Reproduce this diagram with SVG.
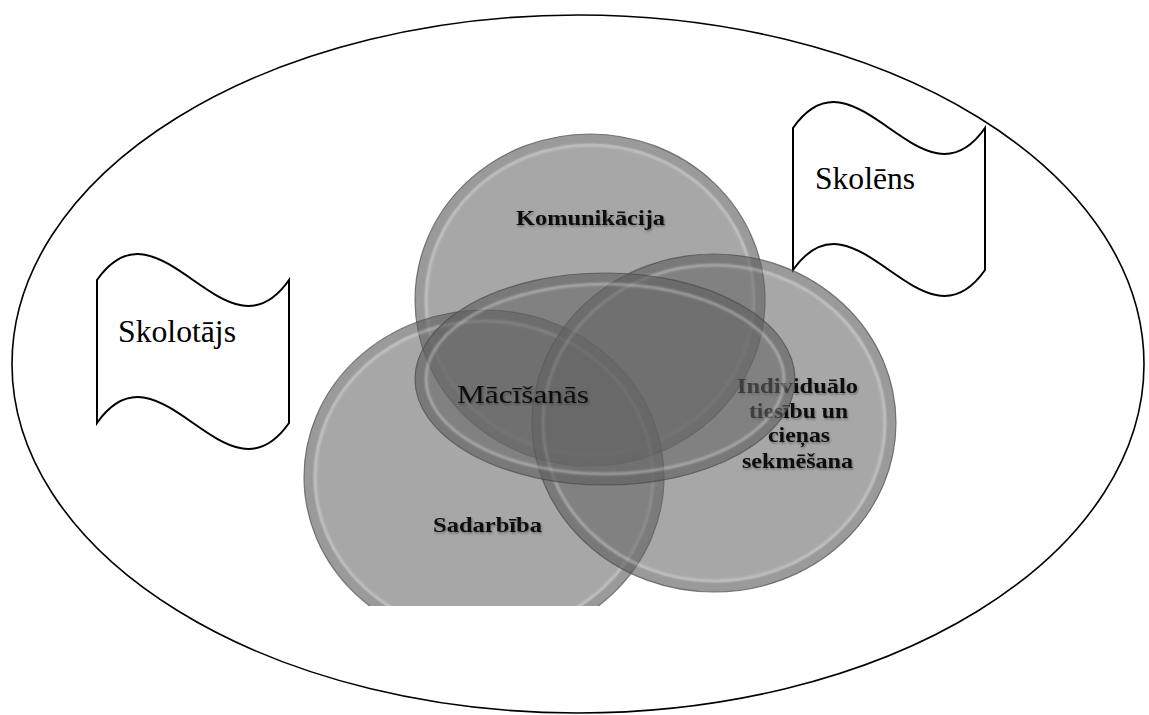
<svg xmlns="http://www.w3.org/2000/svg" width="1149" height="715" viewBox="0 0 1149 715">
  <defs>
    <style>
      .frame { fill: none; stroke: #000; stroke-width: 1.6; }
      .flag { fill: #fff; stroke: #000; stroke-width: 2; }
      .flagtext { font-family: "Liberation Serif", "Times New Roman", serif; font-size: 32px; fill: #000; }
      .disc { fill: #646464; fill-opacity: 0.57; stroke: #4a4a4a; stroke-opacity: 0.7; stroke-width: 1.2; }
      .rim { fill: none; stroke: #ffffff; stroke-opacity: 0.35; stroke-width: 2.5; filter: url(#soft); }
      .band { fill: none; stroke: #505050; stroke-opacity: 0.15; stroke-width: 9; }
      .lbl { font-family: "Liberation Serif", "Times New Roman", serif; font-weight: bold; font-size: 21px; fill: #111; filter: url(#shadow); }
      .big { font-size: 26px; font-weight: normal; }
    </style>
    <filter id="soft" x="-5%" y="-5%" width="110%" height="110%">
      <feGaussianBlur stdDeviation="1"/>
    </filter>
    <filter id="shadow" x="-10%" y="-30%" width="120%" height="160%">
      <feDropShadow dx="1" dy="1.5" stdDeviation="1" flood-color="#000" flood-opacity="0.35"/>
    </filter>
    <clipPath id="cut">
      <rect x="0" y="0" width="1149" height="606"/>
    </clipPath>
  </defs>

  <g id="context">
    <ellipse class="frame" cx="578" cy="364" rx="566" ry="349"/>
  </g>

  <g id="skolotajs">
    <path class="flag" d="M97,280 C160,190 226,370 289,280 L289,423 C226,513 160,333 97,423 Z"/>
    <text class="flagtext" x="118" y="342" textLength="118" lengthAdjust="spacingAndGlyphs">Skolotājs</text>
  </g>

  <g id="skolens">
    <path class="flag" d="M793,128 C856,38 922,218 985,128 L985,270 C922,360 856,180 793,270 Z"/>
    <text class="flagtext" x="815" y="189" textLength="100" lengthAdjust="spacingAndGlyphs">Skolēns</text>
  </g>

  <g id="venn" clip-path="url(#cut)">
    <g id="komunikacija">
      <ellipse class="disc" cx="590" cy="300" rx="175" ry="166"/>
      <ellipse class="band" cx="590" cy="300" rx="170" ry="161"/>
      <ellipse class="rim" cx="590" cy="300" rx="164" ry="155"/>
      <text class="lbl" x="516" y="225" textLength="149" lengthAdjust="spacingAndGlyphs">Komunikācija</text>
    </g>
    <g id="sadarbiba">
      <ellipse class="disc" cx="484" cy="477" rx="180" ry="167"/>
      <ellipse class="band" cx="484" cy="477" rx="175" ry="162"/>
      <ellipse class="rim" cx="484" cy="477" rx="169" ry="156"/>
      <text class="lbl" x="433" y="532" textLength="109" lengthAdjust="spacingAndGlyphs">Sadarbība</text>
    </g>
    <g id="individualo">
      <ellipse class="disc" cx="714" cy="423" rx="182" ry="169"/>
      <ellipse class="band" cx="714" cy="423" rx="177" ry="164"/>
      <ellipse class="rim" cx="714" cy="423" rx="171" ry="158"/>
      <text class="lbl" x="737" y="393" textLength="121" lengthAdjust="spacingAndGlyphs">Individuālo</text>
      <text class="lbl" x="749" y="418" textLength="99" lengthAdjust="spacingAndGlyphs">tiesību un</text>
      <text class="lbl" x="768" y="442" textLength="62" lengthAdjust="spacingAndGlyphs">cieņas</text>
      <text class="lbl" x="742" y="468" textLength="111" lengthAdjust="spacingAndGlyphs">sekmēšana</text>
    </g>
    <g id="macisanas">
      <ellipse class="disc" cx="605" cy="379" rx="190" ry="106"/>
      <ellipse class="band" cx="605" cy="379" rx="185" ry="101"/>
      <ellipse class="rim" cx="605" cy="379" rx="179" ry="95"/>
      <text class="lbl big" x="457" y="403" textLength="132" lengthAdjust="spacingAndGlyphs">Mācīšanās</text>
    </g>
  </g>
</svg>
